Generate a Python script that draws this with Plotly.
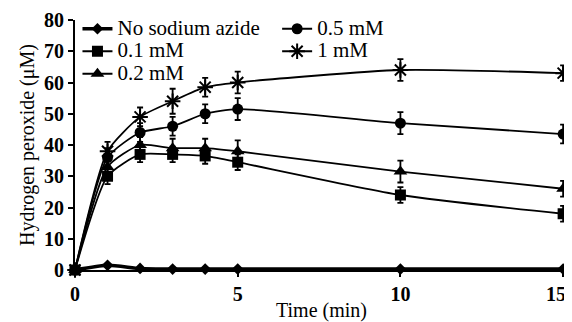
import plotly.graph_objects as go

time = [0, 1, 2, 3, 4, 5, 10, 15]
x_tick_values = [0, 5, 10, 15]
x_tick_labels = ["0", "5", "10", "15\u2002\u2009"]
no_azide = [0, 1.5, 0.5, 0.3, 0.3, 0.3, 0.3, 0.3]
no_azide_err = [0, 0.5, 0.3, 0.2, 0.2, 0.2, 0.2, 0.2]
mm01 = [0, 30, 37, 37, 36.5, 34.5, 24, 18]
mm01_err = [0, 2.5, 2.5, 2.5, 2.5, 2.5, 2.5, 2.5]
mm02 = [0, 33, 40, 39, 39, 38, 31.5, 26]
mm02_err = [0, 2.5, 2.5, 3, 3, 3.5, 3.5, 2.5]
mm05 = [0, 36, 44, 46, 50, 51.5, 47, 43.5]
mm05_err = [0, 3, 3, 3, 3, 3.5, 3.5, 3]
mm1 = [0, 38, 49, 54, 58.5, 60, 64, 63]
mm1_err = [0, 3, 3, 4, 3, 3.5, 3.5, 2.5]

names = ["No sodium azide", "0.1 mM", "0.2 mM", "0.5 mM", "1 mM"]
series = [no_azide, mm01, mm02, mm05, mm1]
errs = [no_azide_err, mm01_err, mm02_err, mm05_err, mm1_err]
symbols = ["diamond", "square", "triangle-up", "circle", "asterisk-open"]
sizes = [9, 11, 12, 11, 13]
legends = ["legend", "legend", "legend", "legend2", "legend2"]

fig = go.Figure()
for n, s, e, sym, sz, lg in zip(names, series, errs, symbols, sizes, legends):
    fig.add_trace(go.Scatter(
        x=time, y=s, name='<span style="font-size:21px">' + n + '</span>', mode="lines+markers",
        line=dict(color="black", width=3.5 if n == "No sodium azide" else 1.8, shape="spline", smoothing=0.6),
        marker=dict(symbol=sym, size=sz, color="black",
                    line=dict(color="black", width=2 if sym == "asterisk-open" else 0)),
        error_y=dict(type="data", array=e, visible=True, color="black", thickness=1.8, width=3),
        cliponaxis=False, legend=lg,
    ))

font = "Liberation Serif"
fig.update_layout(
    width=564, height=314,
    margin=dict(l=67, r=4, t=10, b=52),
    plot_bgcolor="white", paper_bgcolor="white",
    font=dict(family=font, color="black", size=20),
    xaxis=dict(range=[0, 15.15], tickvals=x_tick_values, ticktext=x_tick_labels,
               showline=True, linecolor="black", linewidth=2,
               ticks="outside", ticklen=5, tickwidth=2, tickcolor="black", showgrid=False, zeroline=False,
               automargin=False, ticklabeloverflow="allow",
               tickfont=dict(family=font, size=20, weight="bold"),
               title=dict(text="Time (min)", font=dict(family=font, size=20), standoff=2)),
    yaxis=dict(range=[0, 80], dtick=10, showline=True, linecolor="black", linewidth=2,
               ticks="outside", ticklen=5, tickwidth=2, tickcolor="black", showgrid=False, zeroline=False,
               automargin=False, ticklabeloverflow="allow",
               tickfont=dict(family=font, size=20, weight="bold"),
               title=dict(text="Hydrogen peroxide (μM)", font=dict(family=font, size=20), standoff=4)),
    legend=dict(x=0.005, y=1.03, xanchor="left", yanchor="top", bgcolor="rgba(0,0,0,0)",
                font=dict(family=font, size=15), tracegroupgap=0, itemwidth=30),
    legend2=dict(x=0.41, y=1.03, xanchor="left", yanchor="top", bgcolor="rgba(0,0,0,0)",
                 font=dict(family=font, size=15), tracegroupgap=0, itemwidth=30),
)

fig.write_html("out.html")
